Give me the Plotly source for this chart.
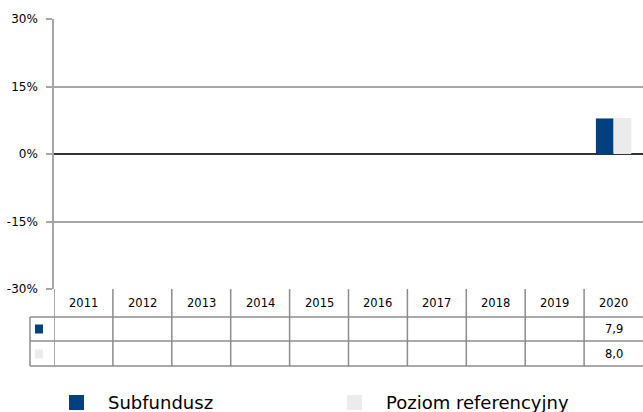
import plotly.graph_objects as go

years = ["2011", "2012", "2013", "2014", "2015", "2016", "2017", "2018", "2019", "2020"]
series_names = ["Subfundusz", "Poziom referencyjny"]
subfundusz = [None, None, None, None, None, None, None, None, None, 7.9]
poziom_ref = [None, None, None, None, None, None, None, None, None, 8.0]
series_values = [subfundusz, poziom_ref]
series_colors = ["#004080", "#ebebeb"]
y_ticks = [-30, -15, 0, 15, 30]

W, H = 643, 412
L, T, B, R = 54, 19, 123, 0
PW, PH = W - L - R, H - T - B
FONT = "DejaVu Sans, Verdana, sans-serif"


def py(p):
    return (H - B - p) / PH


def px(p):
    return (p - L) / PW


fig = go.Figure()
for name, vals, col in zip(series_names, series_values, series_colors):
    fig.add_trace(go.Bar(x=years, y=vals, name=name, marker=dict(color=col, line=dict(width=0)),
                         showlegend=False))

shapes = []
annots = []
line_col = "#8c8c8c"
n = len(years)
# table horizontal lines
for p in (317, 341, 366):
    shapes.append(dict(type="line", xref="paper", yref="paper", x0=px(30), x1=1.0,
                       y0=py(p), y1=py(p), line=dict(color=line_col, width=1.5)))
# left border of legend column
shapes.append(dict(type="line", xref="paper", yref="paper", x0=px(30), x1=px(30),
                   y0=py(317), y1=py(366), line=dict(color=line_col, width=1.5)))
# column boundaries
for i in range(n):
    shapes.append(dict(type="line", xref="x", yref="paper", x0=i - 0.5, x1=i - 0.5,
                       y0=py(289), y1=py(366), line=dict(color=line_col, width=1.5)))
# header labels
for i, yr in enumerate(years):
    annots.append(dict(x=i, y=py(303), xref="x", yref="paper", text=yr, showarrow=False,
                       xanchor="center", yanchor="middle",
                       font=dict(family=FONT, size=11.5, color="#000000")))
# rows
row_centers = [329, 354]
for r, (vals, col) in enumerate(zip(series_values, series_colors)):
    c = row_centers[r]
    shapes.append(dict(type="rect", xref="paper", yref="paper", x0=px(35), x1=px(43),
                       y0=py(c - 4.5), y1=py(c + 4.5), fillcolor=col, line=dict(width=0)))
    for i, v in enumerate(vals):
        if v is not None:
            annots.append(dict(x=i, y=py(c), xref="x", yref="paper",
                               text=f"{v:.1f}".replace(".", ","), showarrow=False,
                               xanchor="center", yanchor="middle",
                               font=dict(family=FONT, size=11.5, color="#000000")))
# legend
leg_x = [69, 347]
for name, col, lx in zip(series_names, series_colors, leg_x):
    shapes.append(dict(type="rect", xref="paper", yref="paper", x0=px(lx), x1=px(lx + 15),
                       y0=py(395), y1=py(410), fillcolor=col, line=dict(width=0)))
    annots.append(dict(x=px(lx + 37), y=py(402), xref="paper", yref="paper", text=name,
                       showarrow=False, xanchor="left", yanchor="middle",
                       font=dict(family=FONT, size=18, color="#000000")))

fig.update_layout(
    width=W, height=H,
    margin=dict(l=L, r=R, t=T, b=B, pad=0, autoexpand=False),
    paper_bgcolor="white", plot_bgcolor="white",
    barmode="group", bargap=0.4, bargroupgap=0,
    shapes=shapes, annotations=annots,
    font=dict(family=FONT),
)
fig.update_xaxes(type="category", range=[-0.5, n - 0.5], showticklabels=False, showgrid=False,
                 zeroline=False, showline=False, ticks="", fixedrange=True, automargin=False)
fig.update_yaxes(range=[-30, 30], tickvals=y_ticks, ticktext=[f"{t}%" for t in y_ticks],
                 showgrid=True, gridcolor="#a6a6a6", gridwidth=1.5,
                 zeroline=True, zerolinecolor="#333333", zerolinewidth=1.5,
                 showline=True, linecolor="#a6a6a6", linewidth=1.5,
                 ticks="outside", ticklen=6, tickcolor="#a6a6a6", tickwidth=1.5,
                 ticklabelstandoff=6, automargin=False,
                 tickfont=dict(family=FONT, size=12, color="#000000"), fixedrange=True)

fig.write_html("out.html", config={"displayModeBar": False},
               post_script="document.body.style.margin='0';document.body.style.overflow='hidden';")
